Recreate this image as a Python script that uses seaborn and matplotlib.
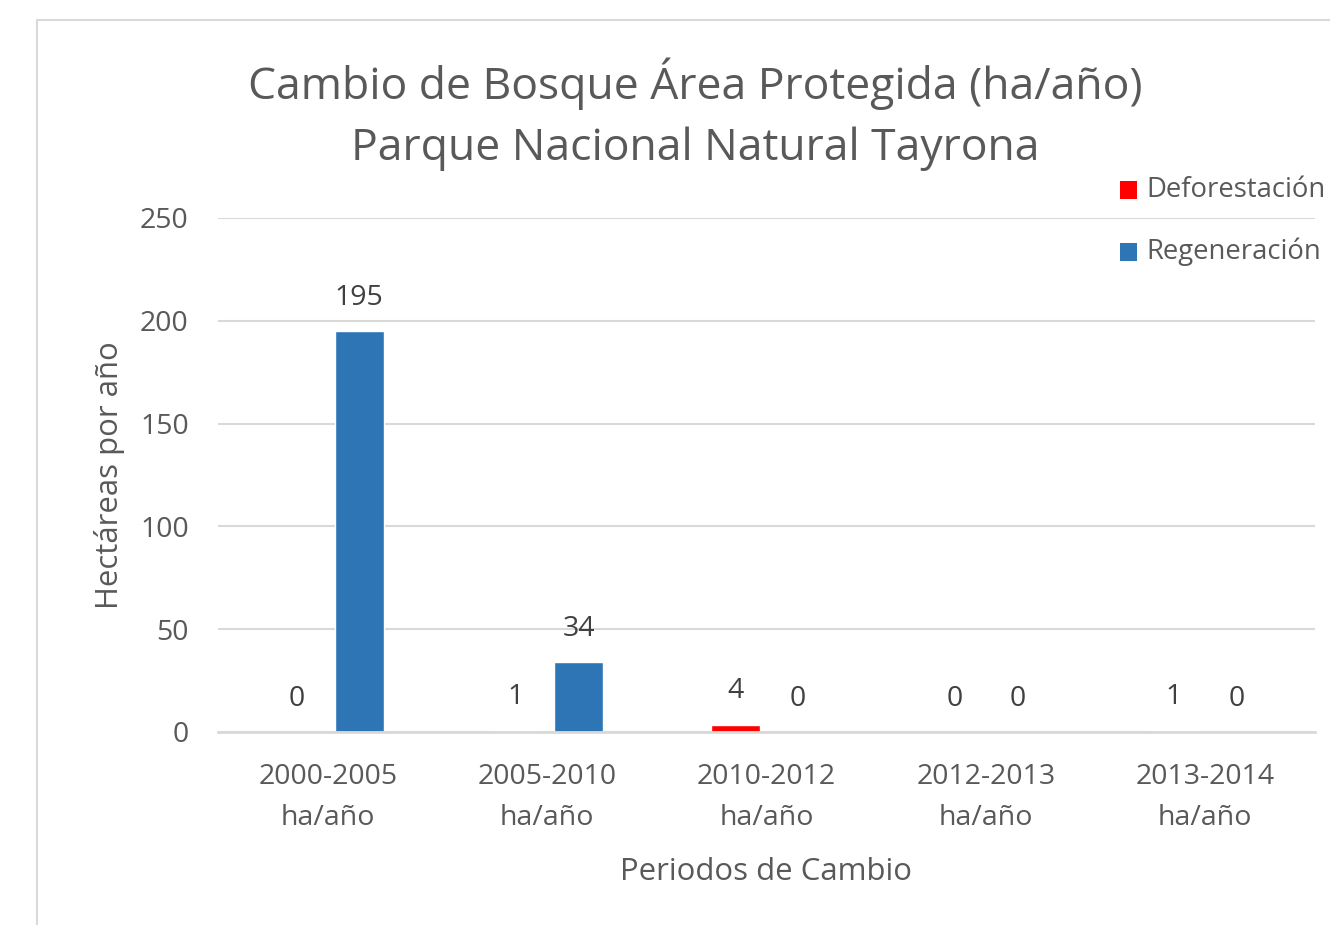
import matplotlib
matplotlib.use("Agg")
import matplotlib.pyplot as plt
import seaborn as sns
import pandas as pd
from matplotlib.patches import Rectangle

periods = ["2000-2005\nha/año", "2005-2010\nha/año", "2010-2012\nha/año",
           "2012-2013\nha/año", "2013-2014\nha/año"]
deforestacion = [0.0, 0.6, 3.6, 0.0, 0.6]
regeneracion = [195.0, 34.0, 0.0, 0.0, 0.0]
series = ["Deforestación", "Regeneración"]
colors = ["#FF0000", "#2E75B6"]
yticks = [0, 50, 100, 150, 200, 250]

df = pd.DataFrame({
    "Periodo": periods * 2,
    "Serie": [series[0]] * len(periods) + [series[1]] * len(periods),
    "Valor": deforestacion + regeneracion,
})

sns.set_theme(style="white")
plt.rcParams["font.family"] = ["Open Sans", "DejaVu Sans"]
txt = "#595959"

fig = plt.figure(figsize=(13.3, 9.25), dpi=100)
W, H = 1330, 925
ax = fig.add_axes([218 / W, 1 - 732 / H, (1315 - 218) / W, (732 - 218) / H])

sns.barplot(data=df, x="Periodo", y="Valor", hue="Serie", order=periods,
            hue_order=series, palette=colors, width=0.573, gap=0.22,
            saturation=1, ax=ax, legend=False, errorbar=None)

ax.set_ylim(0, 250)
ax.set_xlim(-0.5, len(periods) - 0.5)
ax.set_yticks(yticks)
ax.set_yticklabels([str(v) for v in yticks])
ax.yaxis.grid(True, color="#D9D9D9", linewidth=1.5)
ax.set_axisbelow(True)
for s in ["top", "right", "left"]:
    ax.spines[s].set_visible(False)
ax.spines["bottom"].set_color("#D9D9D9")
ax.spines["bottom"].set_linewidth(2)
ax.tick_params(axis="both", length=0, labelsize=20.5, colors=txt)
ax.tick_params(axis="x", pad=22)
ax.tick_params(axis="y", pad=21)
for lab in ax.get_xticklabels():
    lab.set_linespacing(1.62)

for cont in ax.containers:
    ax.bar_label(cont, fmt="%.0f", padding=14, fontsize=20.5, color="#404040")

ax.set_xlabel("Periodos de Cambio", fontsize=22.4, color=txt, labelpad=18)
ax.set_ylabel("Hectáreas por año", fontsize=22.4, color=txt, labelpad=11)

fig.text(695 / W, 1 - 114 / H,
         "Cambio de Bosque Área Protegida (ha/año)\nParque Nacional Natural Tayrona",
         ha="center", va="center", fontsize=32, color=txt, linespacing=1.5)

# legend
for i, (name, col) in enumerate(zip(series, colors)):
    yc = 190 + i * 62
    fig.patches.append(Rectangle((1120 / W, 1 - (yc + 8.5) / H), 17 / W, 17 / H,
                                 transform=fig.transFigure, facecolor=col,
                                 edgecolor="none"))
    fig.text(1146 / W, 1 - yc / H, name, ha="left", va="center",
             fontsize=19.8, color=txt)

# chart area border
fig.patches.append(Rectangle((37 / W, -0.1), 1.2, 1 - 20 / H + 0.1,
                             transform=fig.transFigure, facecolor="none",
                             edgecolor="#D9D9D9", linewidth=1.5, zorder=0))

fig.savefig("out.png", dpi=100)
